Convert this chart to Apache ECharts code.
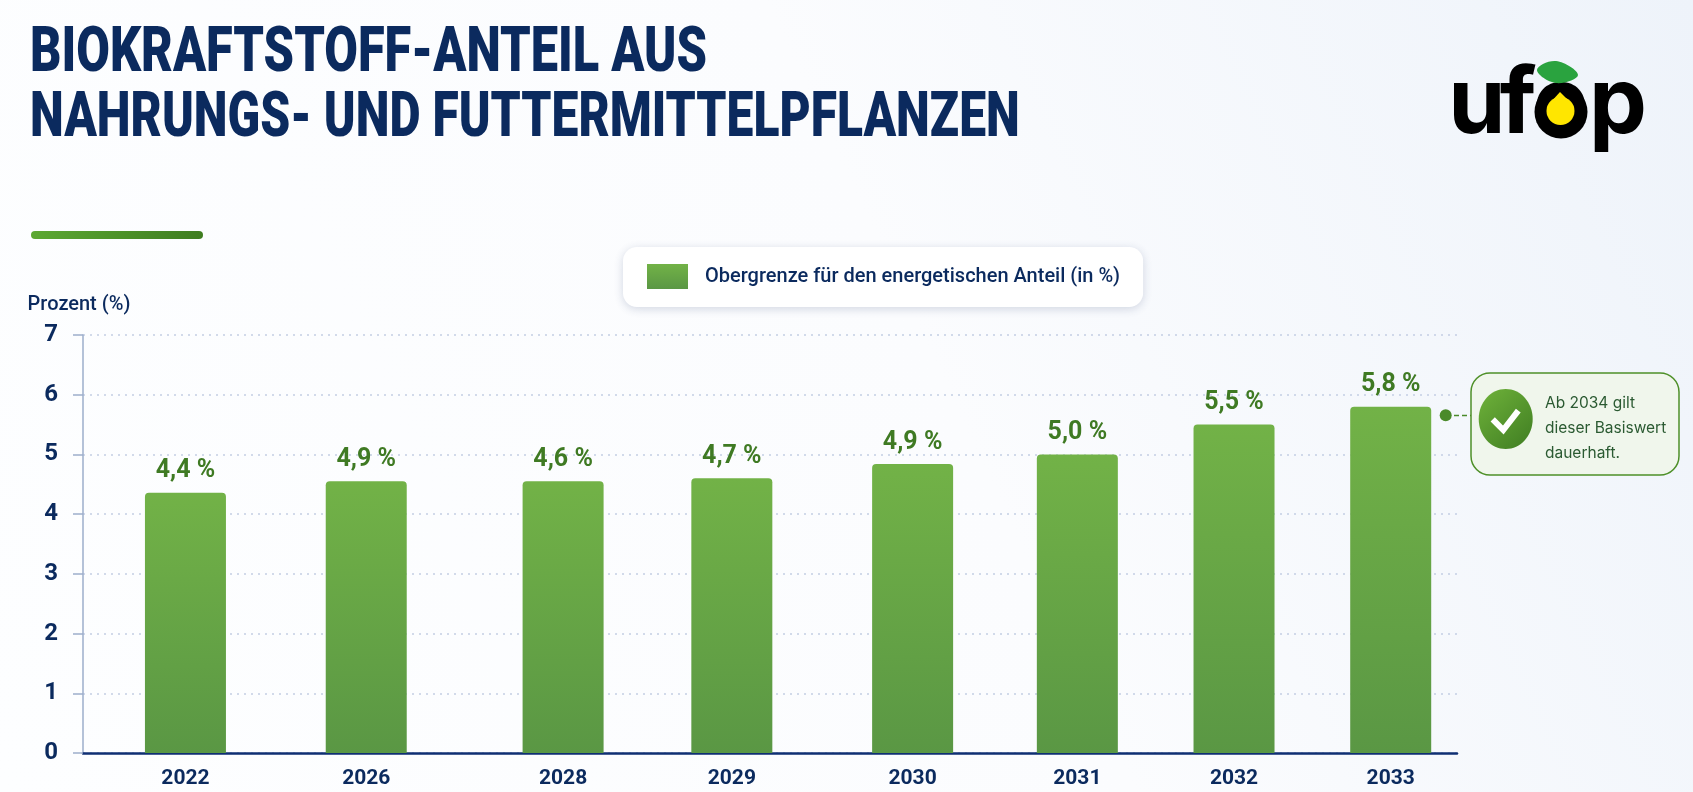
<!DOCTYPE html>
<html><head><meta charset="utf-8">
<style>html,body{margin:0;padding:0;background:#fff}#c{width:1693px;height:792px}</style>
<script src="https://cdn.jsdelivr.net/npm/echarts@6/dist/echarts.min.js"></script>
</head><body><div id="c"></div>
<script>
const categories = ['2022','2026','2028','2029','2030','2031','2032','2033'];
// bar heights as read against the axis
const barValues = [4.36, 4.55, 4.55, 4.6, 4.84, 5.0, 5.5, 5.8];
// printed labels, as they appear in the picture (they do not always equal the bar height)
const valueLabels = ['4,4 %','4,9 %','4,6 %','4,7 %','4,9 %','5,0 %','5,5 %','5,8 %'];
const yTicks = ['0','1','2','3','4','5','6','7'];
const seriesName = 'Obergrenze für den energetischen Anteil (in %)';
const titleLines = ['BIOKRAFTSTOFF-ANTEIL AUS','NAHRUNGS- UND FUTTERMITTELPFLANZEN'];
const calloutLines = ['Ab 2034 gilt','dieser Basiswert','dauerhaft.'];
// layout only: the reference spaces its bars unevenly, so the category axis has blank slots
const leadSlots = 25, gapSlots = [45,49,42,45,41,39,39], trailSlots = 16;

const slotCats = [], slotVals = [], slotIdx = [];
for (let i = 0; i < leadSlots; i++) { slotCats.push(''); slotVals.push(null); slotIdx.push(-1); }
categories.forEach((c, i) => {
  slotCats.push(c); slotVals.push(barValues[i]); slotIdx.push(i);
  const n = i < gapSlots.length ? gapSlots[i] - 1 : trailSlots;
  for (let k = 0; k < n; k++) { slotCats.push(''); slotVals.push(null); slotIdx.push(-1); }
});

const FONT = 'Roboto, sans-serif';
const NAVY = '#0B2A5E';
const chart = echarts.init(document.getElementById('c'));
const G = echarts.graphic;
const logoLetter = (ch, cx) => ({type: 'text', style: {x: cx, y: 105, text: ch, align: 'center', verticalAlign: 'middle', fill: '#000', fontFamily: 'Inter', fontWeight: 700, fontSize: 92}});
chart.setOption({
  animation: false,
  backgroundColor: new G.LinearGradient(0, 1, 1, 0, [
    {offset: 0, color: '#fdfeff'}, {offset: 0.55, color: '#fbfcfe'}, {offset: 1, color: '#eef3fa'}
  ]),
  legend: {
    left: 623, top: 247, padding: [17, 23, 18, 24], itemWidth: 41, itemHeight: 25, itemGap: 0,
    backgroundColor: '#fff', borderRadius: 14,
    shadowBlur: 10, shadowColor: 'rgba(40,60,110,0.2)', shadowOffsetY: 2,
    textStyle: {fontFamily: FONT, fontWeight: 500, fontSize: 20, color: NAVY, padding: [5,0,0,12]},
    data: [{name: seriesName, icon: 'rect'}]
  },
  grid: {left: 83, right: 236, top: 335, bottom: 39},
  xAxis: {
    type: 'category', data: slotCats, boundaryGap: true,
    axisLine: {lineStyle: {color: '#0F2F73', width: 2.5}},
    axisTick: {show: false},
    axisLabel: {interval: 0, margin: 15, color: NAVY, fontFamily: FONT, fontWeight: 'bold', fontSize: 21}
  },
  yAxis: {
    type: 'value', min: 0, max: 7, interval: 1,
    name: 'Prozent (%)', nameLocation: 'end', nameGap: 20,
    nameTextStyle: {fontFamily: FONT, fontWeight: 500, fontSize: 20, color: NAVY, align: 'center', padding: [0, 8, 0, 0]},
    axisLine: {show: true, lineStyle: {color: '#9DAECB', width: 1.5}},
    axisTick: {show: true, length: 10, lineStyle: {color: '#9DAECB', width: 1.5}},
    axisLabel: {margin: 25, color: NAVY, fontFamily: FONT, fontWeight: 'bold', fontSize: 24, formatter: v => yTicks[v]},
    splitLine: {show: true, lineStyle: {type: [2, 5], color: '#C3CEE4', width: 1.5}}
  },
  series: [{
    type: 'bar', name: seriesName, data: slotVals, barWidth: 81, barGap: 0,
    itemStyle: {
      borderRadius: [4, 4, 0, 0],
      color: new G.LinearGradient(0, 0, 0, 1, [{offset: 0, color: '#72B247'}, {offset: 1, color: '#5A9744'}])
    },
    label: {
      show: true, position: 'top', distance: 9, color: '#3F7A23',
      fontFamily: FONT, fontWeight: 'bold', fontSize: 25,
      formatter: p => slotIdx[p.dataIndex] >= 0 ? valueLabels[slotIdx[p.dataIndex]] : ''
    }
  }],
  graphic: [
    {type: 'text', x: 30, y: 55, scaleX: 0.774, style: {x: 0, y: 0, text: titleLines[0], verticalAlign: 'middle', fill: NAVY, fontFamily: FONT, fontWeight: 900, fontSize: 63}},
    {type: 'text', x: 30, y: 120, scaleX: 0.762, style: {x: 0, y: 0, text: titleLines[1], verticalAlign: 'middle', fill: NAVY, fontFamily: FONT, fontWeight: 900, fontSize: 63}},
    {type: 'rect', shape: {x: 31, y: 231, width: 172, height: 8, r: 4},
     style: {fill: new G.LinearGradient(0, 0, 1, 0, [{offset: 0, color: '#5CA832'}, {offset: 1, color: '#3F7D20'}])}},
    // logo
    logoLetter('u', 1477), logoLetter('f', 1518), logoLetter('o', 1561), logoLetter('p', 1618),
    {type: 'circle', shape: {cx: 1561, cy: 112, r: 26.5}, style: {fill: '#000'}},
    {type: 'circle', shape: {cx: 1560.5, cy: 111, r: 14}, style: {fill: '#FFE600'}},
    {type: 'polygon', shape: {points: [[1560, 92], [1571, 103], [1550, 103]]}, style: {fill: '#FFE600'}},
    {type: 'polygon', shape: {smooth: 0.4, points: [[1537, 70], [1556, 61], [1578, 75], [1556, 83]]}, style: {fill: '#2AA33F'}},
    // callout
    {type: 'line', shape: {x1: 1446, y1: 415.5, x2: 1471, y2: 415.5}, style: {stroke: '#4A8A2A', lineWidth: 1.5, lineDash: [5, 3]}},
    {type: 'circle', shape: {cx: 1445.7, cy: 415.3, r: 6}, style: {fill: '#4A8A2A'}},
    {type: 'rect', shape: {x: 1471, y: 373, width: 208, height: 102, r: 19}, style: {fill: '#F0F6EC', stroke: '#4E9028', lineWidth: 1.5}},
    {type: 'ellipse', shape: {cx: 1505.7, cy: 419, rx: 27, ry: 30},
     style: {fill: new G.LinearGradient(0, 0, 1, 1, [{offset: 0, color: '#6FB23A'}, {offset: 1, color: '#3F7D22'}])}},
    {type: 'polyline', shape: {points: [[1492.7, 419.3], [1503.3, 430], [1518.3, 410.7]]}, style: {stroke: '#fff', lineWidth: 6, fill: null}},
    {type: 'text', style: {x: 1545, y: 403, text: calloutLines[0], verticalAlign: 'middle', fill: '#2B5A32', fontFamily: 'Inter', fontSize: 15.5}},
    {type: 'text', style: {x: 1545, y: 428, text: calloutLines[1], verticalAlign: 'middle', fill: '#2B5A32', fontFamily: 'Inter', fontSize: 15.5}},
    {type: 'text', style: {x: 1545, y: 453, text: calloutLines[2], verticalAlign: 'middle', fill: '#2B5A32', fontFamily: 'Inter', fontSize: 15.5}}
  ]
});
</script></body></html>
